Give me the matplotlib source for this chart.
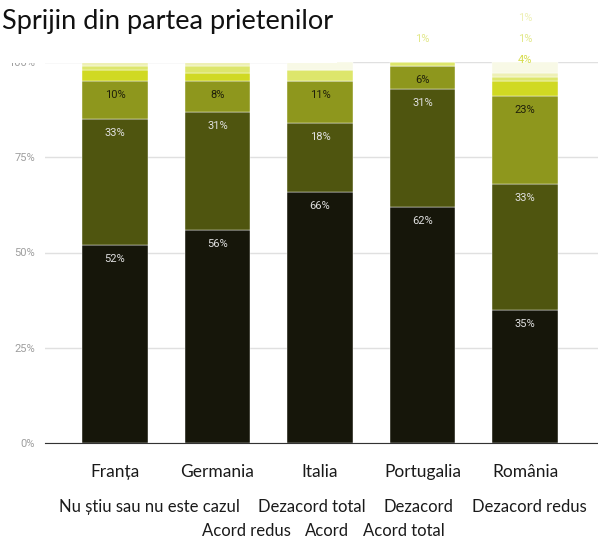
import matplotlib
matplotlib.use("Agg")
import matplotlib.pyplot as plt
from matplotlib.patches import Rectangle
import numpy as np

# Date: procente pe tara, de jos in sus
tari = ["Franța", "Germania", "Italia", "Portugalia", "România"]
categorii = ["Acord total", "Acord", "Acord redus", "Dezacord redus",
             "Dezacord", "Dezacord total", "Nu știu sau nu este cazul"]
acord_total = [52, 56, 66, 62, 35]
acord = [33, 31, 18, 31, 33]
acord_redus = [10, 8, 11, 6, 23]
dezacord_redus = [3, 2, 0, 0, 4]
dezacord = [1, 2, 3, 1, 1]
dezacord_total = [1, 1, 0, 0, 1]
nu_stiu = [0, 0, 2, 0, 3]
culori = ["#16160a", "#4f550f", "#8e971d", "#d0d923", "#dde66b", "#eef0b5", "#f8f9e6"]
culori_text = ["#e0e0e0", "#e0e0e0", "#1f1f0a", "#1f1f0a", "#1f1f0a", "#1f1f0a", "#1f1f0a"]
culori_mici = ["#d6dc4a", "#e2e88a", "#eef0b5", "#f3f5d0"]
titlu = "Sprijin din partea prietenilor"

serii = [acord_total, acord, acord_redus, dezacord_redus, dezacord, dezacord_total, nu_stiu]

W, H = 598, 539
fig = plt.figure(figsize=(W / 100, H / 100), dpi=100)
ax = fig.add_axes([45 / W, (H - 443) / H, 553 / W, 381 / H])

x = np.arange(len(tari))
jos = np.zeros(len(tari))
mici = []
for i, (s, c) in enumerate(zip(serii, culori)):
    s = np.array(s, dtype=float)
    ax.bar(x, s, bottom=jos, width=0.64, color=c, edgecolor="white", linewidth=0.3, zorder=2)
    for j in range(len(tari)):
        if s[j] <= 0:
            continue
        if s[j] >= 5:
            ax.annotate(f"{int(s[j])}%", (x[j], jos[j] + s[j]), xytext=(0, -14),
                        textcoords="offset pixels", ha="center", va="center",
                        fontsize=8, family="Roboto", color=culori_text[i], zorder=3)
        else:
            # etichetele mici ies deasupra barei
            k = i - 3
            t = ax.text(x[j], 100.5 + 5.5 * k, f"{int(s[j])}%", ha="center", va="center",
                        fontsize=8, family="Roboto", color=culori_mici[k], clip_on=False, zorder=3)
            mici.append(t)
    jos += s

ax.set_xlim(-0.683, 4.712)
ax.set_ylim(0, 100)
ax.set_yticks([0, 25, 50, 75, 100])
ax.set_yticklabels(["0%", "25%", "50%", "75%", "100%"], family="Roboto", fontsize=8, color="#9e9e9e")
ax.tick_params(axis="y", length=0, pad=7)
ax.set_xticks(x)
ax.set_xticklabels(tari, family="Lato", fontsize=12.5, color="#1a1a1a")
ax.tick_params(axis="x", length=0, pad=15)
ax.grid(axis="y", color="#e0e0e0", linewidth=1, zorder=0)
for sp in ["top", "right", "left"]:
    ax.spines[sp].set_visible(False)
ax.spines["bottom"].set_color("#333333")
ax.spines["bottom"].set_zorder(4)

# caseta alba a titlului, peste grafic
box_w, box_h = 337, 63
fig.add_artist(Rectangle((0, 1 - box_h / H), box_w / W, box_h / H, transform=fig.transFigure,
                         facecolor="white", edgecolor="none", zorder=10))
fig.text(2 / W, 1 - 21 / H, titlu, family="Lato", fontsize=19.5, color="#111111",
         ha="left", va="center", zorder=11)

renderer = fig.canvas.get_renderer()
# etichetele mici de sub caseta titlului nu se vad
for t in mici:
    bb = t.get_window_extent(renderer)
    if bb.x1 < box_w:
        t.set_visible(False)

# legenda doar text, asezata pe randuri centrate
ordine = categorii[::-1]
randuri = [ordine[:4], ordine[4:]]
goluri = [18, 14]
for r, rand in enumerate(randuri):
    gap = goluri[r]
    texte = [fig.text(0, 0, t, family="Lato", fontsize=12, color="#1a1a1a", va="center") for t in rand]
    latimi = [t.get_window_extent(renderer).width for t in texte]
    total = sum(latimi) + gap * (len(texte) - 1)
    x0 = 323 - total / 2
    y = 507 + r * 24
    for t, w in zip(texte, latimi):
        t.set_position((x0 / W, 1 - y / H))
        x0 += w + gap

fig.savefig("out.png", dpi=100)
